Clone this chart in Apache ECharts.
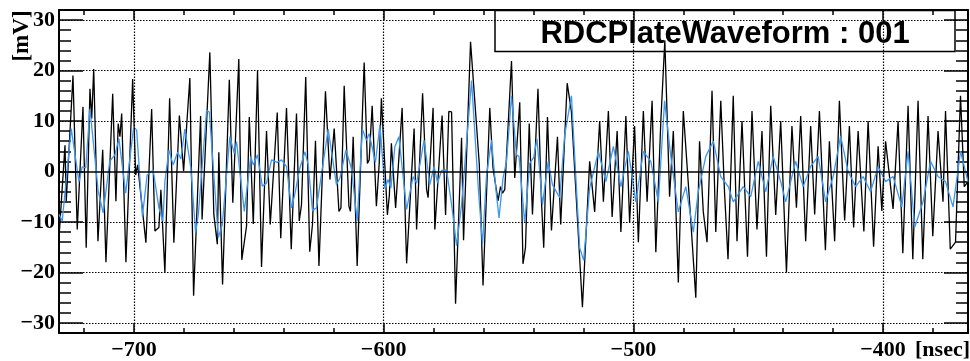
<!DOCTYPE html>
<html><head><meta charset="utf-8">
<script src="https://cdn.jsdelivr.net/npm/echarts@6/dist/echarts.min.js"></script>
<style>html,body{margin:0;padding:0;background:#fff}#c{width:970px;height:361px}</style>
</head><body><div id="c"></div>
<script>
// ---- data ----
const titleText = 'RDCPlateWaveform : 001';
const xTickLabels = [-700, -600, -500, -400];
const xMinorTicks = [-720,-700,-680,-660,-640,-620,-600,-580,-560,-540,-520,-500,-480,-460,-440,-420,-400,-380];
const yTickLabels = [-30, -20, -10, 0, 10, 20, 30];
const blackT = [-730.0,-727.6,-727.1,-724.4,-722.7,-720.4,-719.1,-717.6,-716.9,-716.1,-714.4,-712.5,-711.2,-708.5,-707.2,-706.3,-705.6,-704.9,-703.2,-700.5,-699.3,-698.5,-695.2,-692.9,-691.6,-690.0,-689.2,-687.6,
-685.7,-684.0,-681.8,-680.1,-677.6,-676.1,-673.3,-672.7,-669.6,-668.0,-666.6,-666.0,-664.5,-661.8,-660.4,-658.0,-656.8,-654.9,-653.8,-652.2,-650.5,-648.9,-646.9,-645.4,
-642.6,-641.2,-638.9,-637.0,-634.9,-633.8,-632.9,-631.2,-629.6,-628.5,-627.3,-625.9,-623.3,-621.5,-619.8,-617.9,-617.1,-615.8,-613.9,-613.3,-612.2,-610.6,-607.8,-606.5,-605.8,-604.6,-602.9,
-601.8,-600.9,-598.5,-597.7,-596.9,-595.2,-592.6,-590.8,-587.8,-586.8,-584.4,-582.8,-582.2,-580.2,-579.5,-576.6,-575.2,-573.9,-572.8,-571.2,-568.8,-568.0,-565.2,-561.7,-560.2,
-557.5,-556.2,-554.2,-553.2,-552.4,-551.5,-548.8,-547.5,-545.5,-544.2,-543.2,-541.7,-540.4,-538.2,-536.8,-535.9,-534.4,-533.9,-532.8,-530.4,-529.1,-526.5,-524.8,-520.4,-517.5,
-515.5,-513.5,-512.0,-510.0,-508.5,-506.5,-505.0,-503.0,-501.5,-499.5,-498.0,-496.0,-494.5,-492.5,-491.0,-489.0,-487.4,-485.5,-484.0,-482.0,-480.0,-477.5,-475.0,-473.5,-472.0,-470.5,-468.5,-467.0,-465.0,-463.5,
-462.1,-460.0,-458.5,-456.5,-454.3,-452.5,-450.5,-448.5,-446.7,-445.0,-443.0,-441.0,-438.7,-436.5,-434.7,-433.0,-431.0,-429.0,-427.4,-425.5,-423.1,-421.5,-419.4,-417.5,-415.4,-413.5,-411.8,-410.0,-407.7,-406.0,
-403.8,-402.0,-400.5,-399.0,-396.0,-394.0,-392.1,-390.0,-388.1,-386.0,-384.1,-382.0,-380.1,-378.0,-376.0,-375.0,-373.1,-371.0,-369.0,-367.5,-366.0];
const blackV = [-13.1,5.2,-5.9,19.0,-11.5,12.8,-15.1,16.4,10.5,20.3,-13.8,4.3,-18.0,15.4,-5.9,9.5,6.9,11.5,-18.0,18.3,-0.7,1.3,-14.1,12.4,-11.8,-11.1,-3.6,-20.0,
14.5,-14.1,11.1,0.1,18.5,-24.6,11.0,-9.5,23.6,-8.5,-14.4,3.8,-22.4,18.2,-6.2,22.3,-17.5,-10.8,10.8,-10.4,20.0,-18.9,8.0,-10.5,
11.7,-13.2,12.6,-15.4,11.5,-9.8,-6.6,18.7,-15.9,-10.5,6.1,-18.7,15.9,-1.6,8.5,-7.9,-7.2,17.0,-6.9,-7.9,6.9,-18.7,21.6,1.6,2.3,13.0,-6.9,
1.4,14.5,-8.6,-4.6,5.6,-7.2,12.6,-18.2,8.5,-11.5,15.5,-3.6,-5.2,12.6,-11.5,11.1,-8.6,11.9,11.8,-26.2,6.7,-13.6,25.7,1.5,-22.6,
12.6,0.7,-5.8,-3.0,-4.3,-3.6,21.9,-1.3,13.7,-18.3,-15.1,9.5,-8.5,16.4,-5.9,-15.1,10.8,11.0,-11.7,6.9,-10.5,17.5,11.8,-26.9,2.0,
-8,10,-6,12,-9,8,-12,11,-10,9,-14,12,-6,14,-16,10,26,-5,8,-22,12,-6,-25,6,-8,-14,16,-12,14,-4,
-17.4,15,-13.8,10,-16.9,12,-11.5,8,-16.9,13,-8.6,10,-20,9,-7.2,11,-13.8,9,-8.5,12,-15.6,6,-13.8,14,-9.7,9,-11.1,8,-11.9,10,
-14.9,5,-7.8,6,-7.4,10,-16.2,13,-17.4,14,-17.4,11,-12.8,8,-6,12,-15.4,-14,15,-3,-2];
const blueT = [-730.0,-728.7,-725.1,-722.0,-720.7,-719.3,-717.6,-714.3,-712.3,-709.7,-707.6,-706.0,-703.3,-700.1,-698.9,-696.6,-694.7,-692.3,-690.0,-688.4,
-687.6,-686.0,-684.3,-682.5,-681.2,-679.6,-677.2,-675.3,-674.2,-670.9,-669.8,-666.2,-664.6,-661.6,-659.8,-658.9,-655.8,-653.2,-652.2,-650.5,-648.6,-646.9,
-644.9,-642.6,-640.9,-638.9,-636.9,-635.6,-633.6,-631.5,-630.2,-628.5,-626.9,-622.2,-618.9,-617.5,-615.1,-612.9,-610.6,-608.5,-606.9,-605.8,-603.3,
-601.5,-599.5,-598.2,-597.1,-595.5,-593.9,-590.8,-588.2,-586.8,-583.8,-581.5,-579.8,-578.4,-576.8,-574.8,-572.6,-570.8,-568.8,-564.8,-562.0,-560.4,
-558.8,-556.8,-555.1,-553.8,-552.2,-550.8,-548.8,-546.8,-545.8,-543.5,-541.5,-539.9,-538.6,-536.4,-534.1,-532.4,-529.5,-527.5,-524.8,-521.5,-519.9,-517.5,
-514,-511,-508,-505,-502,-499,-496,-493,-490,-487.5,-485,-482,-479,-476,-474,-471,-468,-465,-462,-460,-456,-453,-450,-447,-444,-441,-439,-435,-432,-429,
-426,-423,-420,-417,-414,-411,-408,-405,-402,-399,-396,-392.5,-390,-387.3,-384,-381,-378,-375,-372,-369,-366];
const blueV = [-8.5,-9.8,8.5,-2.0,0.9,0.7,12.4,-3.9,-8.2,2.0,3.3,6.5,-4.3,8.8,8.2,-8.9,-0.7,0.3,-7.2,-9.8,
-2.0,4.2,1.3,3.8,2.5,8.4,0.7,-12.1,-8.5,12.1,11.8,-13.1,-10.5,6.9,3.6,5.9,-7.9,3.0,1.3,3.3,-2.9,-2.3,
2.3,1.8,2.3,1.0,-7.2,-4.6,0.6,3.9,1.3,-7.7,-7.2,8.4,-2.6,-1.3,4.3,0.6,-9.8,8.4,6.2,7.5,1.8,
9.2,-3.3,-1.6,-3.3,4.9,6.9,-7.5,-1.0,-2.3,6.2,-2.6,1.0,-2.3,0.2,0.3,-7.2,-14.7,-6.6,18.0,-4.0,-14.4,
-0.7,6.2,-3.3,-9.2,-1.3,2.0,15.0,3.3,3.0,-10.2,1.6,2.8,6.5,-6.6,2.0,-2.6,-5.2,7.2,15.0,-15.1,-17.6,-3.3,
4,-2,5,-3,4,-6,4,2,-6,14,3,-8,-3,-12,-4,3,6,-1,-3,-6,-3,-5,2,-4,3,-2,-6,2,-3,1,
3,-6,-1,7,0,-3,-1,-4,1,-2,-1,-7,4,-11,-6,2,-1,-2,-7,4,-2];
const xMin = -730, xMax = -366, yMin = -32, yMax = 32;

// ---- chart ----
const serif = '"Liberation Serif", "DejaVu Serif", serif';
const zip = (a, b) => a.map((t, i) => [t, b[i]]);
const minus = v => String(v).replace('-', '\u2212');
const chart = echarts.init(document.getElementById('c'), null, {renderer: 'canvas'});
const lbl = {fontFamily: serif, fontWeight: 'bold', fontSize: 22, color: '#000'};
const tickStyle = {color:'#000', width:1.5};
function xAx(pos, len, ticks, showLine, showLabel) {
  return {type:'value', min:xMin, max:xMax, position:pos,
    axisLine:{show:showLine, onZero:false, lineStyle:{color:'#000', width:2}},
    axisTick:{show:true, inside:true, length:len, customValues:ticks, lineStyle:tickStyle},
    axisLabel: showLabel ? {show:true, customValues:xTickLabels, margin:6, formatter:minus, ...lbl} : {show:false},
    splitLine:{show:false}};
}
function yAx(pos, len, major, showLine, showLabel) {
  const a = {type:'value', min:yMin, max:yMax, position:pos,
    axisLine:{show:showLine, onZero:false, lineStyle:{color:'#000', width:2}},
    axisTick:{show:true, inside:true, length:len, lineStyle:tickStyle},
    axisLabel: showLabel ? {show:true, customValues:yTickLabels, margin:4, formatter:minus, ...lbl} : {show:false},
    splitLine:{show:false}};
  if (major) a.axisTick.customValues = yTickLabels; else a.interval = 2;
  return a;
}
const xAxes = [xAx('bottom', 10, xTickLabels, true, true), xAx('bottom', 5, xMinorTicks, false, false),
               xAx('top', 10, xTickLabels, true, false), xAx('top', 5, xMinorTicks, false, false)];
const yAxes = [yAx('left', 24, true, true, true), yAx('left', 12, false, false, false),
               yAx('right', 24, true, true, false), yAx('right', 12, false, false, false)];
const gridLines = [];
xTickLabels.forEach(v => gridLines.push({xAxis: v}));
yTickLabels.filter(v => v !== 0).forEach(v => gridLines.push({yAxis: v}));
chart.setOption({
  animation:false,
  backgroundColor:'#fff',
  grid:{left:59, right:2, top:10, bottom:24, containLabel:false},
  xAxis:xAxes, yAxis:yAxes,
  series:[
    {type:'line', name:'grid', data:[], xAxisIndex:0, yAxisIndex:0, silent:true, z:1,
     markLine:{silent:true, symbol:['none','none'], label:{show:false}, animation:false,
       lineStyle:{color:'#000', type:[1.5,1.5], width:1.2}, data:gridLines}},
    {type:'line', name:'zero', data:[], xAxisIndex:0, yAxisIndex:0, silent:true, z:1,
     markLine:{silent:true, symbol:['none','none'], label:{show:false}, animation:false,
       lineStyle:{color:'#000', type:'solid', width:1.5}, data:[{yAxis:0}]}},
    {type:'line', name:'raw', data:zip(blackT, blackV), showSymbol:false, symbol:'none', z:3,
     lineStyle:{color:'#000', width:1.3}, xAxisIndex:0, yAxisIndex:0},
    {type:'line', name:'filtered', data:zip(blueT, blueV), showSymbol:false, symbol:'none', z:4,
     lineStyle:{color:'#3b97f2', width:1.3}, xAxisIndex:0, yAxisIndex:0}
  ],
  graphic:[
    {type:'rect', shape:{x:495, y:10.5, width:460, height:41}, style:{fill:'none', stroke:'#000', lineWidth:1.5}, z:10},
    {type:'text', x:725, y:34, style:{text:titleText, align:'center', verticalAlign:'middle',
      font:'bold 31px "Liberation Sans", Arial, sans-serif', fill:'#000'}, z:10},
    {type:'text', x:22, y:36, rotation:Math.PI/2, style:{text:'[mV]', align:'center', verticalAlign:'middle',
      font:'bold 23px ' + serif, fill:'#000'}, z:10},
    {type:'text', x:970, y:350, style:{text:'[nsec]', align:'right', verticalAlign:'middle',
      font:'bold 22px ' + serif, fill:'#000'}, z:10}
  ]
});
</script></body></html>
